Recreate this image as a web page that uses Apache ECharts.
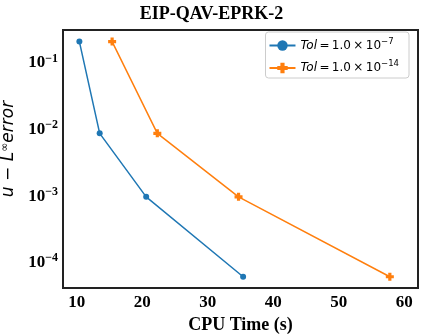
<!DOCTYPE html>
<html>
<head>
<meta charset="utf-8">
<script src="https://cdn.jsdelivr.net/npm/echarts@6/dist/echarts.min.js"></script>
<style>
  html, body { margin: 0; padding: 0; background: #fff; }
  #main { width: 423px; height: 335px; }
</style>
</head>
<body>
<div id="main"></div>
<script>
// data
var tolA = [[10.4, 0.21], [13.5, 0.0088], [20.6, 0.00098], [35.4, 0.000062]]
var tolB = [[15.4, 0.21], [22.3, 0.0088], [34.7, 0.00098], [57.8, 0.000062]]
var seriesNames = ['Tol = 1.0 × 10^-7', 'Tol = 1.0 × 10^-14']
var legendExp = ['−7', '−14']

var serif = 'Liberation Serif'
var sans = 'DejaVu Sans'
var plusPath = 'path://M3,0h4v3h3v4h-3v3h-4v-3h-3v-4h3z'

var myChart = echarts.init(document.getElementById('main'))

var option = {
  animation: false,
  title: {
    text: 'EIP-QAV-EPRK-2',
    left: 'center',
    top: 0,
    textStyle: { fontFamily: serif, fontWeight: 'bold', fontSize: 18, color: '#000' }
  },
  legend: {
    orient: 'vertical',
    right: 14,
    top: 32,
    itemGap: 8,
    itemWidth: 26,
    itemHeight: 13,
    padding: [5, 10, 4, 3],
    borderColor: '#cccccc',
    borderWidth: 1,
    borderRadius: 3,
    data: seriesNames,
    formatter: function(name) {
      var i = seriesNames.indexOf(name)
      return '{i|Tol}{t|\u2009=\u20091.0\u2009×\u200910}{s|' + legendExp[i] + '}'
    },
    textStyle: {
      rich: {
        i: { fontFamily: sans, fontStyle: 'italic', fontSize: 12, color: '#000' },
        t: { fontFamily: sans, fontSize: 12, color: '#000' },
        s: { fontFamily: sans, fontSize: 8.5, color: '#000', verticalAlign: 'top', padding: [0, 0, 8, 0] }
      }
    }
  },
  grid: {
    left: 63,
    right: 5,
    top: 30,
    bottom: 47,
    show: true,
    borderColor: '#222',
    borderWidth: 2,
    containLabel: false,
    outerBoundsMode: 'none'
  },
  xAxis: {
    type: 'value',
    min: 7.9,
    max: 62.1,
    splitNumber: 5,
    name: 'CPU Time (s)',
    nameLocation: 'middle',
    nameGap: 26,
    nameTextStyle: { fontFamily: serif, fontWeight: 'bold', fontSize: 18, color: '#000' },
    axisLine: { show: false },
    axisTick: { show: false },
    splitLine: { show: false },
    axisLabel: {
      margin: 6,
      fontFamily: serif,
      fontWeight: 'bold',
      fontSize: 17,
      color: '#000',
      formatter: function(v) {
        return Math.abs(v % 10) < 1e-6 ? String(v) : ''
      }
    }
  },
  yAxis: {
    type: 'log',
    logBase: 10,
    min: 0.000042,
    max: 0.313,
    name: 'u − L{sup|∞}error',
    nameLocation: 'middle',
    nameGap: 36,
    nameRotate: 90,
    nameTextStyle: {
      fontFamily: sans,
      fontStyle: 'italic',
      fontSize: 17,
      color: '#000',
      padding: [0, 0, 0, 20],
      rich: {
        sup: { fontFamily: sans, fontSize: 11, color: '#000', verticalAlign: 'top', padding: [0, 0, 8, 0] }
      }
    },
    axisLine: { show: false },
    axisTick: { show: false },
    splitLine: { show: false },
    axisLabel: {
      margin: 5,
      color: '#000',
      formatter: function(v) {
        var e = Math.log10(v)
        var r = Math.round(e)
        if (Math.abs(e - r) > 1e-6) return ''
        return '{b|10}{s|−' + (-r) + '}'
      },
      rich: {
        b: { fontFamily: serif, fontWeight: 'bold', fontSize: 17, color: '#000' },
        s: { fontFamily: serif, fontWeight: 'bold', fontSize: 12, color: '#000', verticalAlign: 'top', padding: [0, 0, 9, 0] }
      }
    }
  },
  series: [
    {
      name: seriesNames[0],
      type: 'line',
      data: tolA,
      symbol: 'circle',
      symbolSize: 6,
      itemStyle: { color: '#1f77b4' },
      lineStyle: { color: '#1f77b4', width: 1.5 }
    },
    {
      name: seriesNames[1],
      type: 'line',
      data: tolB,
      symbol: plusPath,
      symbolSize: 8,
      itemStyle: { color: '#ff7f0e' },
      lineStyle: { color: '#ff7f0e', width: 1.5 }
    }
  ]
}

myChart.setOption(option)
</script>
</body>
</html>
